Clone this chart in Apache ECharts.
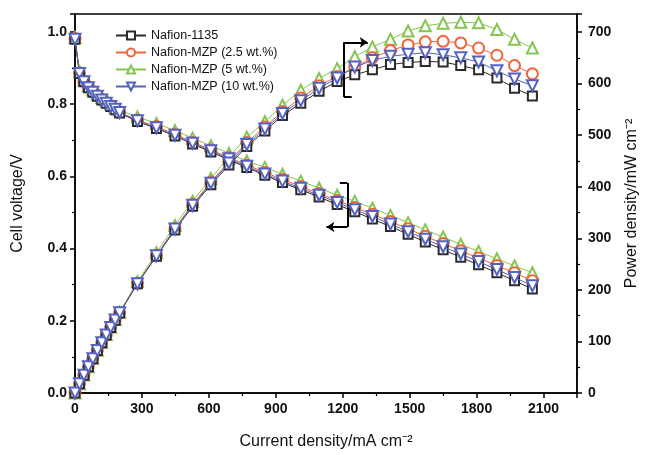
<!DOCTYPE html>
<html>
<head>
<meta charset="utf-8">
<script src="https://cdn.jsdelivr.net/npm/echarts@6/dist/echarts.min.js"></script>
<style>html,body{margin:0;padding:0;background:#fff}#c{width:648px;height:455px}</style>
</head>
<body>
<div id="c"></div>
<script>
var current = [0, 20, 40, 60, 80, 100, 120, 140, 160, 180, 200, 280, 365, 448, 527, 609, 690, 770, 851, 930, 1012, 1094, 1175, 1254, 1333, 1414, 1493, 1570, 1650, 1729, 1809, 1891, 1970, 2050];
var xTicks = [0, 300, 600, 900, 1200, 1500, 1800, 2100];
var names = ['Nafion-1135', 'Nafion-MZP (2.5 wt.%)', 'Nafion-MZP (5 wt.%)', 'Nafion-MZP (10 wt.%)'];

var vN1135 = [0.98, 0.885, 0.862, 0.846, 0.833, 0.822, 0.812, 0.803, 0.794, 0.785, 0.776, 0.752, 0.733, 0.712, 0.69, 0.668, 0.646, 0.625, 0.603, 0.583, 0.563, 0.543, 0.522, 0.502, 0.482, 0.461, 0.44, 0.418, 0.397, 0.376, 0.355, 0.333, 0.311, 0.288];
var vMZP25 = [0.982, 0.887, 0.864, 0.848, 0.835, 0.824, 0.814, 0.805, 0.796, 0.787, 0.778, 0.756, 0.738, 0.717, 0.695, 0.674, 0.652, 0.632, 0.611, 0.592, 0.572, 0.553, 0.533, 0.514, 0.495, 0.475, 0.455, 0.434, 0.414, 0.394, 0.374, 0.353, 0.333, 0.311];
var vMZP5 = [0.985, 0.89, 0.868, 0.852, 0.84, 0.829, 0.819, 0.81, 0.801, 0.792, 0.784, 0.765, 0.747, 0.727, 0.706, 0.685, 0.664, 0.643, 0.625, 0.606, 0.587, 0.568, 0.548, 0.531, 0.512, 0.492, 0.472, 0.452, 0.432, 0.412, 0.392, 0.372, 0.352, 0.333];
var vMZP10 = [0.98, 0.885, 0.862, 0.846, 0.833, 0.822, 0.812, 0.803, 0.794, 0.786, 0.777, 0.754, 0.735, 0.714, 0.692, 0.671, 0.649, 0.628, 0.607, 0.587, 0.567, 0.548, 0.528, 0.508, 0.489, 0.468, 0.447, 0.426, 0.405, 0.385, 0.364, 0.342, 0.32, 0.297];

var pN1135 = [0, 17.7, 34.5, 50.8, 66.6, 82.2, 97.4, 112.4, 127, 141.3, 155.2, 212, 265, 316, 362, 404, 442, 478, 508, 538, 562, 585, 604, 617, 627, 637, 641, 643, 642, 635, 627, 611, 591, 576];
var pMZP25 = [0, 17.7, 34.6, 50.9, 66.8, 82.4, 97.7, 112.7, 127.4, 141.7, 155.6, 213, 267, 319, 366, 409, 449, 486, 516, 546, 572, 596, 614, 632, 650, 664, 675, 681, 682, 679, 669, 655, 635, 619];
var pMZP5 = [0, 17.8, 34.7, 51.1, 67.2, 82.9, 98.3, 113.4, 128.2, 142.6, 156.8, 216, 272, 325, 372, 416, 458, 496, 526, 558, 587, 610, 629, 652, 671, 686, 702, 712, 717, 719, 718, 705, 686, 669];
var pMZP10 = [0, 17.7, 34.5, 50.8, 66.6, 82.2, 97.4, 112.4, 127, 141.4, 155.4, 212, 266, 318, 364, 407, 446, 482, 512, 542, 567, 591, 611, 632, 645, 653, 657, 660, 656, 650, 642, 625, 609, 596];

function pairs(ys) { return current.map(function (x, i) { return [x, ys[i]]; }); }

var styles = [
  { color: '#2a2a2a', symbol: 'emptyRect', rot: 0, bw: 2, z: 4 },
  { color: '#f0643c', symbol: 'emptyCircle', rot: 0, bw: 1.5, z: 3 },
  { color: '#86c551', symbol: 'emptyTriangle', rot: 0, bw: 1.5, z: 2 },
  { color: '#5563c0', symbol: 'emptyTriangle', rot: 180, bw: 1.5, z: 5 }
];
var vSets = [vN1135, vMZP25, vMZP5, vMZP10];
var pSets = [pN1135, pMZP25, pMZP5, pMZP10];

var series = [];
[2, 1, 0, 3].forEach(function (k) {
  var st = styles[k];
  ['v', 'p'].forEach(function (kind) {
    series.push({
      name: names[k],
      type: 'line',
      yAxisIndex: kind === 'v' ? 0 : 1,
      data: pairs(kind === 'v' ? vSets[k] : pSets[k]),
      symbol: st.symbol,
      symbolRotate: st.rot,
      symbolSize: st.symbol === 'emptyRect' ? 9 : 11,
      z: st.z,
      lineStyle: { color: st.color, width: 1 },
      itemStyle: { color: st.color, borderColor: st.color, borderWidth: st.bw },
      animation: false
    });
  });
});

// bracket annotations (data coordinates)
var mlStyle = { color: '#000', width: 2, type: 'solid' };
series.push({
  type: 'line', yAxisIndex: 1, data: [], silent: true,
  markLine: {
    silent: true, symbol: 'none', label: { show: false }, lineStyle: mlStyle, animation: false,
    data: [
      [{ coord: [1205, 680] }, { coord: [1205, 574] }],
      [{ coord: [1205, 574] }, { coord: [1240, 574] }],
      [{ coord: [1205, 680], symbol: 'none' }, { coord: [1312, 680], symbol: 'arrow', symbolSize: 8 }]
    ]
  }
});
series.push({
  type: 'line', yAxisIndex: 0, data: [], silent: true,
  markLine: {
    silent: true, symbol: 'none', label: { show: false }, lineStyle: mlStyle, animation: false,
    data: [
      [{ coord: [1221, 0.582] }, { coord: [1221, 0.46] }],
      [{ coord: [1187, 0.582] }, { coord: [1221, 0.582] }],
      [{ coord: [1221, 0.46], symbol: 'none' }, { coord: [1127, 0.46], symbol: 'arrow', symbolSize: 8 }]
    ]
  }
});

var labelFont = { fontFamily: 'Liberation Sans, Arial', fontSize: 14, fontWeight: 'bold', color: '#111' };
var nameFont = { fontFamily: 'Liberation Sans, Arial', fontSize: 16, color: '#111' };
var axLine = { show: true, lineStyle: { color: '#000', width: 1.5 } };

var chart = echarts.init(document.getElementById('c'), null, { renderer: 'canvas' });
chart.setOption({
  animation: false,
  backgroundColor: '#fff',
  grid: { left: 75, right: 70, top: 14, bottom: 62, show: true, borderColor: '#000', borderWidth: 1.5 },
  legend: {
    data: names, orient: 'vertical', left: 110, top: 24, itemWidth: 30, itemHeight: 10, itemGap: 4,
    textStyle: { fontFamily: 'Liberation Sans, Arial', fontSize: 12.5, color: '#111' }
  },
  xAxis: {
    type: 'value', min: 0, max: 2250, interval: 300,
    name: 'Current density/mA cm\u207B\u00B2', nameLocation: 'middle', nameGap: 41, nameTextStyle: nameFont,
    axisLine: axLine,
    axisTick: { show: true, inside: false, length: 5, lineStyle: { color: '#000', width: 1.5 } },
    minorTick: { show: true, splitNumber: 2, length: 3, lineStyle: { color: '#000', width: 1.2 } },
    splitLine: { show: false },
    axisLabel: Object.assign({ margin: 9, showMaxLabel: false, formatter: function (v) { return xTicks.indexOf(v) >= 0 ? String(v) : ''; } }, labelFont)
  },
  yAxis: [
    {
      type: 'value', min: 0, max: 1.05, interval: 0.2, position: 'left',
      name: 'Cell voltage/V', nameLocation: 'middle', nameGap: 49, nameRotate: 90, nameTextStyle: nameFont,
      axisLine: axLine,
      axisTick: { show: true, length: 5, lineStyle: { color: '#000', width: 1.5 } },
      minorTick: { show: true, splitNumber: 2, length: 3, lineStyle: { color: '#000', width: 1.2 } },
      splitLine: { show: false },
      axisLabel: Object.assign({ margin: 8, showMaxLabel: false, formatter: function (v) { return v.toFixed(1); } }, labelFont)
    },
    {
      type: 'value', min: 0, max: 735, interval: 100, position: 'right',
      name: 'Power density/mW cm\u207B\u00B2', nameLocation: 'middle', nameGap: 47, nameRotate: 90, nameTextStyle: nameFont,
      axisLine: axLine,
      axisTick: { show: true, length: 5, lineStyle: { color: '#000', width: 1.5 } },
      minorTick: { show: true, splitNumber: 2, length: 3, lineStyle: { color: '#000', width: 1.2 } },
      splitLine: { show: false },
      axisLabel: Object.assign({ margin: 11, showMaxLabel: false }, labelFont)
    }
  ],
  series: series
});
</script>
</body>
</html>
